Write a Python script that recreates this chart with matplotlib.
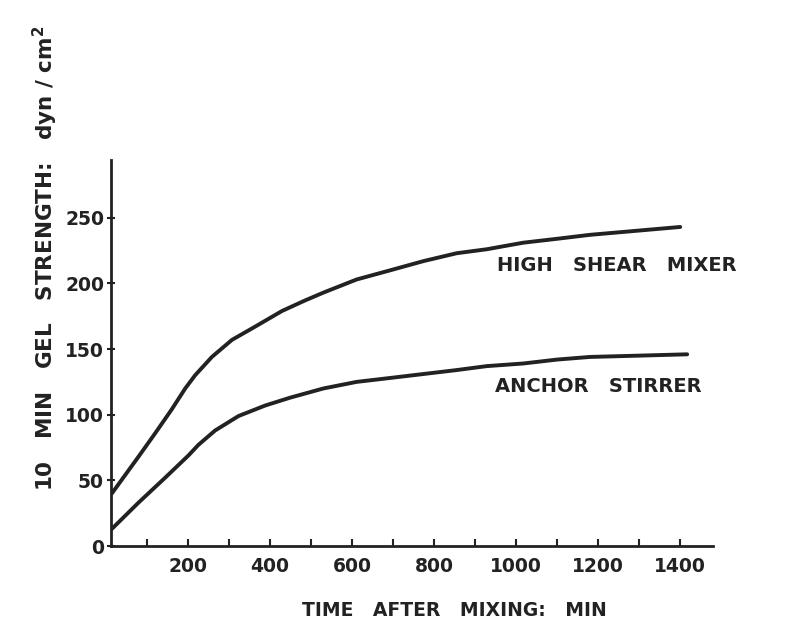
import numpy as np
import matplotlib
matplotlib.use("Agg")
import matplotlib.pyplot as plt
from matplotlib.ticker import MultipleLocator

# values
high_x = [14, 79, 120, 160, 193, 217, 258, 307, 363, 429, 485, 530, 611, 693,
          774, 855, 928, 1017, 1100, 1180, 1290, 1400]
high_y = [40, 68, 86, 104, 120, 130, 144, 157, 167, 179, 187, 193, 203, 210,
          217, 223, 226, 231, 234, 237, 240, 243]

anchor_x = [14, 79, 144, 201, 225, 266, 323, 388, 449, 530, 611, 693, 774, 855,
            928, 1017, 1100, 1180, 1300, 1417]
anchor_y = [13, 33, 52, 69, 77, 88, 99, 107, 113, 120, 125, 128, 131, 134,
            137, 139, 142, 144, 145, 146]

x_ticks = [200, 400, 600, 800, 1000, 1200, 1400]
y_ticks = [0, 50, 100, 150, 200, 250]

W, H = 786, 622
fig = plt.figure(figsize=(W / 100, H / 100), dpi=100)
ax = fig.add_axes([111 / W, 1 - 546 / H, (713 - 111) / W, (546 - 160) / H])

ink = "#222222"
font = dict(family="DejaVu Sans", weight="bold", color=ink)

ax.plot(high_x, high_y, color=ink, lw=2.8, solid_capstyle="round", solid_joinstyle="round")
ax.plot(anchor_x, anchor_y, color=ink, lw=2.8, solid_capstyle="round", solid_joinstyle="round")

ax.set_xlim(12, 1480)
ax.set_ylim(0, 294)

for s in ["top", "right"]:
    ax.spines[s].set_visible(False)
for s in ["left", "bottom"]:
    ax.spines[s].set_linewidth(2.0)
    ax.spines[s].set_color(ink)

ax.set_xticks(x_ticks)
ax.xaxis.set_minor_locator(MultipleLocator(100))
ax.set_yticks(y_ticks)
ax.tick_params(axis="x", which="both", direction="in", length=5, width=1.5, color=ink, pad=8)
ax.tick_params(axis="y", direction="inout", length=6, width=1.5, color=ink, pad=2)
ax.set_xticklabels([str(v) for v in x_ticks], fontsize=13.5, **font)
ax.set_yticklabels([str(v) for v in y_ticks], fontsize=13.5, **font)

# curve labels
fig.text(497 / W, 1 - 265 / H, "HIGH   SHEAR   MIXER", fontsize=14,
         va="center", ha="left", **font)
fig.text(495 / W, 1 - 387 / H, "ANCHOR   STIRRER", fontsize=14,
         va="center", ha="left", **font)

# axis titles
fig.text(454 / W, 1 - 610 / H, "TIME   AFTER   MIXING:   MIN", fontsize=13.5,
         ha="center", va="center", **font)
fig.text(45 / W, 1 - 258 / H, "10   MIN   GEL   STRENGTH:   dyn / cm$^\\mathbf{2}$", fontsize=15.5,
         rotation=90, ha="center", va="center", **font)

fig.savefig("out.png", dpi=100)
